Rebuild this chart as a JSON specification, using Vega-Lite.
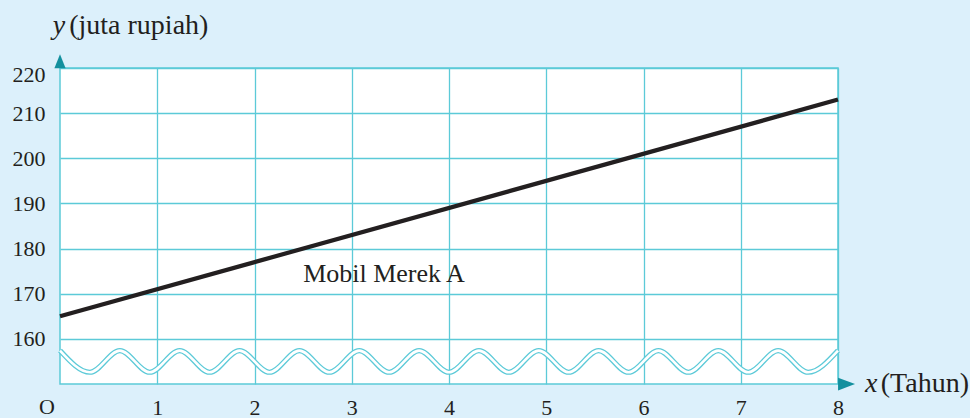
{
  "$schema": "https://vega.github.io/schema/vega-lite/v6.json",
  "width": 778,
  "height": 316,
  "autosize": {"type": "none"},
  "padding": {"left": 60, "top": 68, "right": 132, "bottom": 34},
  "background": "#dcf0fb",
  "config": {
    "view": {"fill": "#ffffff", "stroke": "#5ccad8", "strokeWidth": 1.5},
    "font": "Liberation Serif",
    "text": {"font": "Liberation Serif", "color": "#231f20"}
  },
  "datasets": {
    "wave": [
      {"x": 0, "y": 157.4}, {"x": 0.3077, "y": 152.6}, {"x": 0.6154, "y": 157.4}, {"x": 0.9231, "y": 152.6},
      {"x": 1.2308, "y": 157.4}, {"x": 1.5385, "y": 152.6}, {"x": 1.8462, "y": 157.4}, {"x": 2.1538, "y": 152.6},
      {"x": 2.4615, "y": 157.4}, {"x": 2.7692, "y": 152.6}, {"x": 3.0769, "y": 157.4}, {"x": 3.3846, "y": 152.6},
      {"x": 3.6923, "y": 157.4}, {"x": 4.0, "y": 152.6}, {"x": 4.3077, "y": 157.4}, {"x": 4.6154, "y": 152.6},
      {"x": 4.9231, "y": 157.4}, {"x": 5.2308, "y": 152.6}, {"x": 5.5385, "y": 157.4}, {"x": 5.8462, "y": 152.6},
      {"x": 6.1538, "y": 157.4}, {"x": 6.4615, "y": 152.6}, {"x": 6.7692, "y": 157.4}, {"x": 7.0769, "y": 152.6},
      {"x": 7.3846, "y": 157.4}, {"x": 7.6923, "y": 152.6}, {"x": 8.0, "y": 157.4}
    ],
    "car": [{"x": 0, "y": 165}, {"x": 8, "y": 213}]
  },
  "layer": [
    {
      "data": {"name": "wave"},
      "mark": {"type": "line", "interpolate": "monotone", "color": "#5ccad8", "strokeWidth": 5.2},
      "encoding": {
        "x": {
          "field": "x", "type": "quantitative",
          "scale": {"domain": [0, 8], "nice": false, "zero": false},
          "axis": {
            "values": [1, 2, 3, 4, 5, 6, 7, 8], "format": "d", "title": null, "domain": false, "ticks": false, "tickSize": 0,
            "grid": true, "gridColor": "#5ccad8", "gridWidth": 1.3, "gridOpacity": 1,
            "labelFont": "Liberation Serif", "labelFontSize": 22, "labelColor": "#231f20", "labelPadding": 13, "labelFlush": false
          }
        },
        "y": {
          "field": "y", "type": "quantitative",
          "scale": {"domain": [150, 220], "nice": false, "zero": false},
          "axis": {
            "values": [160, 170, 180, 190, 200, 210, 220], "format": "d", "title": null, "domain": false, "ticks": false, "tickSize": 0,
            "grid": true, "gridColor": "#5ccad8", "gridWidth": 1.3, "gridOpacity": 1,
            "labelFont": "Liberation Serif", "labelFontSize": 22, "labelColor": "#231f20", "labelPadding": 15, "labelFlush": false,
            "labelOffset": {"condition": {"test": "datum.value === 220", "value": 6}, "value": 0}
          }
        }
      }
    },
    {
      "data": {"name": "wave"},
      "mark": {"type": "line", "interpolate": "monotone", "color": "#ffffff", "strokeWidth": 2.6},
      "encoding": {"x": {"field": "x", "type": "quantitative"}, "y": {"field": "y", "type": "quantitative"}}
    },
    {
      "data": {"name": "car"},
      "mark": {"type": "line", "color": "#231f20", "strokeWidth": 4.2},
      "encoding": {"x": {"field": "x", "type": "quantitative"}, "y": {"field": "y", "type": "quantitative"}}
    },
    {
      "data": {"values": [{"x": 2.5, "y": 172.6, "label": "Mobil Merek A"}]},
      "mark": {"type": "text", "align": "left", "baseline": "alphabetic", "fontSize": 26, "font": "Liberation Serif", "color": "#231f20"},
      "encoding": {"x": {"field": "x", "type": "quantitative"}, "y": {"field": "y", "type": "quantitative"}, "text": {"field": "label"}}
    },
    {
      "data": {"values": [{"x": -0.075, "y": 227.6, "label": "y"}, {"x": 8.277, "y": 148.2, "label": "x"}]},
      "mark": {"type": "text", "align": "left", "baseline": "alphabetic", "fontSize": 28, "fontStyle": "italic", "font": "Liberation Serif", "color": "#231f20"},
      "encoding": {"x": {"field": "x", "type": "quantitative"}, "y": {"field": "y", "type": "quantitative"}, "text": {"field": "label"}}
    },
    {
      "data": {"values": [{"x": 0.095, "y": 227.6, "label": "(juta rupiah)"}, {"x": 8.44, "y": 148.2, "label": "(Tahun)"}]},
      "mark": {"type": "text", "align": "left", "baseline": "alphabetic", "fontSize": 28, "font": "Liberation Serif", "color": "#231f20"},
      "encoding": {"x": {"field": "x", "type": "quantitative"}, "y": {"field": "y", "type": "quantitative"}, "text": {"field": "label"}}
    },
    {
      "data": {"values": [{"x": -0.134, "y": 147.1, "label": "O"}]},
      "mark": {"type": "text", "align": "center", "baseline": "top", "fontSize": 22, "font": "Liberation Serif", "color": "#231f20"},
      "encoding": {"x": {"field": "x", "type": "quantitative"}, "y": {"field": "y", "type": "quantitative"}, "text": {"field": "label"}}
    },
    {
      "data": {"values": [{"x": 0, "y": 221.5}]},
      "mark": {"type": "point", "shape": "M-0.8,1L0,-1L0.8,1Z", "size": 196, "filled": true, "color": "#13909e", "opacity": 1},
      "encoding": {"x": {"field": "x", "type": "quantitative"}, "y": {"field": "y", "type": "quantitative"}}
    },
    {
      "data": {"values": [{"x": 8.088, "y": 150}]},
      "mark": {"type": "point", "shape": "M-1,-0.75L1,0L-1,0.75Z", "size": 289, "filled": true, "color": "#13909e", "opacity": 1},
      "encoding": {"x": {"field": "x", "type": "quantitative"}, "y": {"field": "y", "type": "quantitative"}}
    }
  ]
}
